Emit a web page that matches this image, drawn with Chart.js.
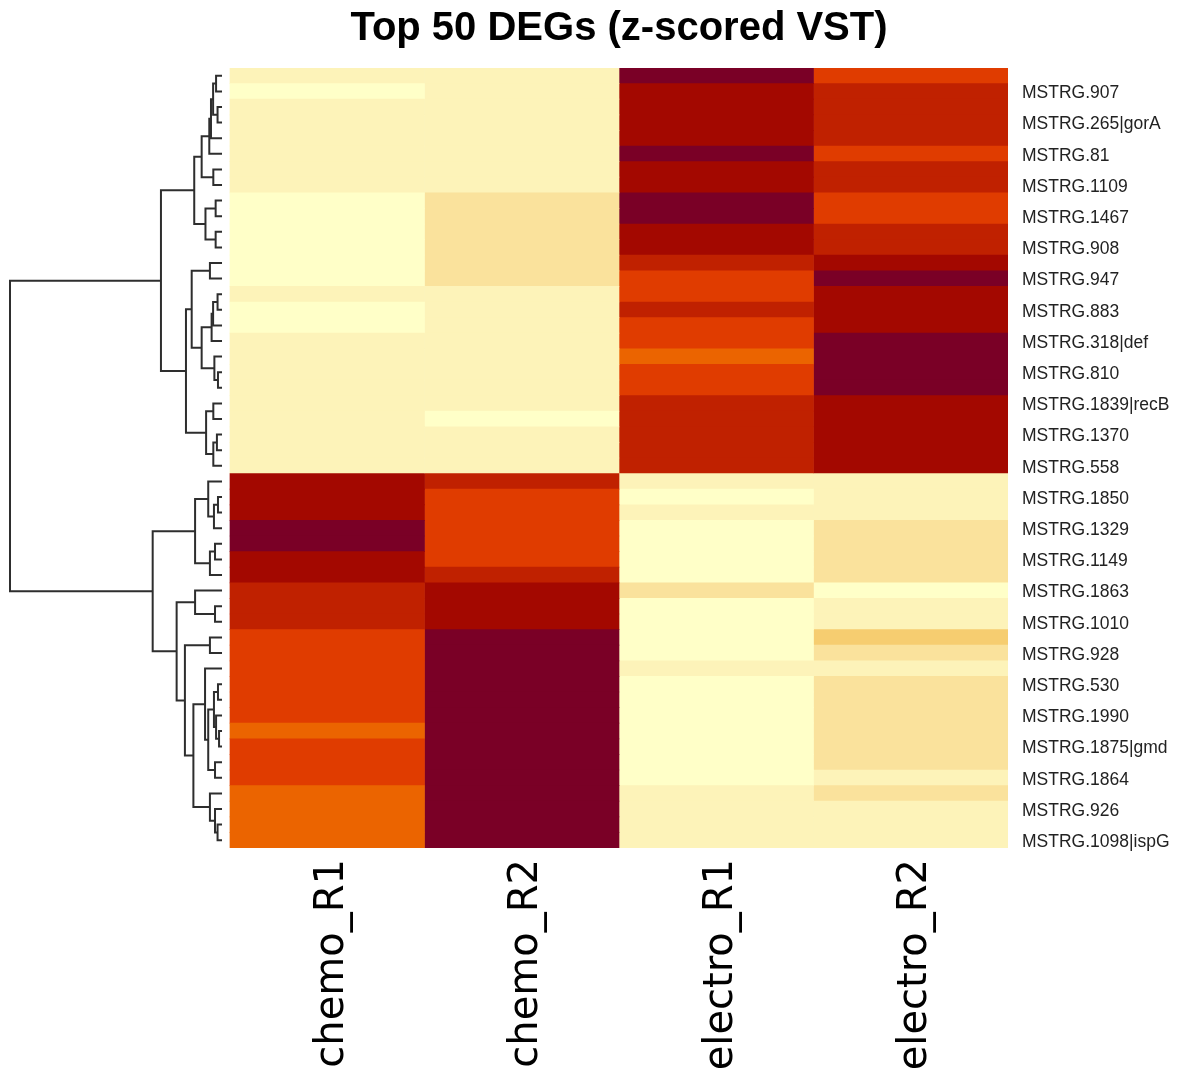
<!DOCTYPE html>
<html>
<head>
<meta charset="utf-8">
<title>Top 50 DEGs</title>
<script src="https://cdn.jsdelivr.net/npm/chart.js@4.4.1/dist/chart.umd.min.js"></script>
<style>
  body { margin: 0; background: #fff; }
</style>
</head>
<body>
<canvas id="heat" width="1177" height="1076"></canvas>
<script>
// samples (columns)
var sampleLabels = ['chemo_R1', 'chemo_R2', 'electro_R1', 'electro_R2'];

// 50 rows, only every second row name is printed in the figure
var geneLabels = [
  '', 'MSTRG.907', '', 'MSTRG.265|gorA', '', 'MSTRG.81', '', 'MSTRG.1109', '', 'MSTRG.1467',
  '', 'MSTRG.908', '', 'MSTRG.947', '', 'MSTRG.883', '', 'MSTRG.318|def', '', 'MSTRG.810',
  '', 'MSTRG.1839|recB', '', 'MSTRG.1370', '', 'MSTRG.558', '', 'MSTRG.1850', '', 'MSTRG.1329',
  '', 'MSTRG.1149', '', 'MSTRG.1863', '', 'MSTRG.1010', '', 'MSTRG.928', '', 'MSTRG.530',
  '', 'MSTRG.1990', '', 'MSTRG.1875|gmd', '', 'MSTRG.1864', '', 'MSTRG.926', '', 'MSTRG.1098|ispG'
];

// z-scored VST values, one array per sample, rows top to bottom
var chemoR1 = [
  -0.8, -1.0, -0.8, -0.8, -0.8, -0.8, -0.8, -0.8, -1.0, -1.0,
  -1.0, -1.0, -1.0, -1.0, -0.8, -1.0, -1.0, -0.8, -0.8, -0.8,
  -0.8, -0.8, -0.8, -0.8, -0.8, -0.8, 1.0, 1.0, 1.0, 1.2,
  1.2, 1.0, 1.0, 0.8, 0.8, 0.8, 0.6, 0.6, 0.6, 0.6,
  0.6, 0.6, 0.4, 0.6, 0.6, 0.6, 0.4, 0.4, 0.4, 0.4
];
var chemoR2 = [
  -0.8, -0.8, -0.8, -0.8, -0.8, -0.8, -0.8, -0.8, -0.6, -0.6,
  -0.6, -0.6, -0.6, -0.6, -0.8, -0.8, -0.8, -0.8, -0.8, -0.8,
  -0.8, -0.8, -1.0, -0.8, -0.8, -0.8, 0.8, 0.6, 0.6, 0.6,
  0.6, 0.6, 0.8, 1.0, 1.0, 1.0, 1.2, 1.2, 1.2, 1.2,
  1.2, 1.2, 1.2, 1.2, 1.2, 1.2, 1.2, 1.2, 1.2, 1.2
];
var electroR1 = [
  1.2, 1.0, 1.0, 1.0, 1.0, 1.2, 1.0, 1.0, 1.2, 1.2,
  1.0, 1.0, 0.8, 0.6, 0.6, 0.8, 0.6, 0.6, 0.4, 0.6,
  0.6, 0.8, 0.8, 0.8, 0.8, 0.8, -0.8, -1.0, -0.8, -1.0,
  -1.0, -1.0, -1.0, -0.6, -1.0, -1.0, -1.0, -1.0, -0.8, -1.0,
  -1.0, -1.0, -1.0, -1.0, -1.0, -1.0, -0.8, -0.8, -0.8, -0.8
];
var electroR2 = [
  0.6, 0.8, 0.8, 0.8, 0.8, 0.6, 0.8, 0.8, 0.6, 0.6,
  0.8, 0.8, 1.0, 1.2, 1.0, 1.0, 1.0, 1.2, 1.2, 1.2,
  1.2, 1.0, 1.0, 1.0, 1.0, 1.0, -0.8, -0.8, -0.8, -0.6,
  -0.6, -0.6, -0.6, -1.0, -0.8, -0.8, -0.4, -0.6, -0.8, -0.6,
  -0.6, -0.6, -0.6, -0.6, -0.6, -0.8, -0.6, -0.8, -0.8, -0.8
];

// colour key: a value >= break[i] moves to the next colour
var colorBreaks = [-0.9, -0.7, -0.5, -0.3, 0.5, 0.7, 0.9, 1.1];
var colorSteps = ['#ffffc8', '#fdf3b9', '#fae29c', '#f6cd70', '#eb6400', '#e03c00', '#c02100', '#a30800', '#7a0026'];

// row dendrogram, hclust style: negative = row number (1-based), positive = earlier merge
var dendroMerges = [
  [-1, -2, 0.028], [-3, -4, 0.021], [1, 2, 0.042], [3, -5, 0.052], [4, -6, 0.060],
  [-7, -8, 0.041], [5, 6, 0.096], [-9, -10, 0.030], [-11, -12, 0.030], [8, 9, 0.078],
  [7, 10, 0.131], [-13, -14, 0.057], [-15, -16, 0.021], [13, -17, 0.042], [14, -18, 0.049],
  [-20, -21, 0.019], [-19, 16, 0.036], [15, 17, 0.096], [12, 18, 0.143], [-22, -23, 0.041],
  [-24, -25, 0.024], [21, -26, 0.041], [20, 22, 0.075], [19, 23, 0.170], [11, 24, 0.288],
  [-28, -29, 0.019], [26, -30, 0.038], [-27, 27, 0.065], [-31, -32, 0.033], [29, -33, 0.057],
  [28, 30, 0.127], [-35, -36, 0.033], [-34, 32, 0.127], [-37, -38, 0.057], [-40, -41, 0.019],
  [-43, -44, 0.014], [-42, 36, 0.028], [35, 37, 0.038], [-45, -46, 0.033], [38, 39, 0.065],
  [-39, 40, 0.080], [-49, -50, 0.021], [-48, 42, 0.033], [-47, 43, 0.057], [41, 44, 0.135],
  [34, 45, 0.175], [33, 46, 0.214], [31, 47, 0.327], [25, 48, 1.0]
];

var columns = [chemoR1, chemoR2, electroR1, electroR2];

// dendrogram sits left of the heatmap, in x-axis units (one unit = one column)
var dendroGap = 0.041;
var dendroWidth = 1.09;

function zColor(z) {
  var i = 0;
  while (i < colorBreaks.length && z >= colorBreaks[i]) i++;
  return colorSteps[i];
}

var dendroPlugin = {
  id: 'dendro',
  afterDatasetsDraw: function(chart) {
    var ctx = chart.ctx;
    var x = chart.scales.x, y = chart.scales.y;
    var nodes = [];
    function node(id) {
      return id < 0 ? { row: -id - 1, h: 0 } : nodes[id - 1];
    }
    function px(h) {
      return x.getPixelForValue(-dendroGap - h * dendroWidth);
    }
    ctx.save();
    ctx.strokeStyle = '#2e2e2e';
    ctx.lineWidth = 2;
    dendroMerges.forEach(function(m) {
      var a = node(m[0]), b = node(m[1]), h = m[2];
      var ya = y.getPixelForValue(a.row), yb = y.getPixelForValue(b.row);
      ctx.beginPath();
      ctx.moveTo(px(a.h), ya);
      ctx.lineTo(px(h), ya);
      ctx.lineTo(px(h), yb);
      ctx.lineTo(px(b.h), yb);
      ctx.stroke();
      nodes.push({ row: (a.row + b.row) / 2, h: h });
    });
    ctx.restore();
  }
};

var titlePlugin = {
  id: 'centredTitle',
  afterDraw: function(chart) {
    var ctx = chart.ctx;
    ctx.save();
    ctx.font = 'bold 40px "Liberation Sans", Arial, sans-serif';
    ctx.fillStyle = '#000';
    ctx.textAlign = 'center';
    ctx.textBaseline = 'alphabetic';
    ctx.fillText('Top 50 DEGs (z-scored VST)', chart.scales.x.getPixelForValue(2), 40);
    ctx.restore();
  }
};

var ctx = document.getElementById('heat').getContext('2d');
new Chart(ctx, {
  type: 'bar',
  data: {
    labels: geneLabels,
    datasets: columns.map(function(col, c) {
      return {
        label: sampleLabels[c],
        data: col.map(function() { return 1; }),   // every cell is one column wide
        backgroundColor: col.map(zColor),
        borderWidth: 0,
        barPercentage: 1,
        categoryPercentage: 1
      };
    })
  },
  options: {
    indexAxis: 'y',
    responsive: false,
    animation: false,
    layout: { padding: { top: 68, left: 10, right: 0, bottom: 0 } },
    plugins: {
      legend: { display: false },
      tooltip: { enabled: false },
      title: { display: false }
    },
    scales: {
      x: {
        type: 'linear',
        stacked: true,
        min: -dendroGap - dendroWidth,
        max: sampleLabels.length,
        grid: { display: false, drawTicks: false },
        border: { display: false },
        afterBuildTicks: function(scale) {
          scale.ticks = sampleLabels.map(function(s, i) { return { value: i + 0.5 }; });
        },
        afterFit: function(scale) { scale.height = 228; },
        ticks: {
          autoSkip: false,
          minRotation: 90,
          maxRotation: 90,
          padding: 11,
          labelOffset: 5,
          color: '#000',
          font: { family: '"DejaVu Sans", sans-serif', size: 40 },
          callback: function(v, i) { return sampleLabels[i]; }
        }
      },
      y: {
        stacked: true,
        position: 'right',
        grid: { display: false, drawTicks: false },
        border: { display: false },
        afterFit: function(scale) { scale.width = 169; },
        ticks: {
          autoSkip: false,
          padding: 14,
          labelOffset: 2,
          color: '#222',
          font: { family: '"Liberation Sans", Arial, sans-serif', size: 17.5 }
        }
      }
    }
  },
  plugins: [dendroPlugin, titlePlugin]
});
</script>
</body>
</html>
